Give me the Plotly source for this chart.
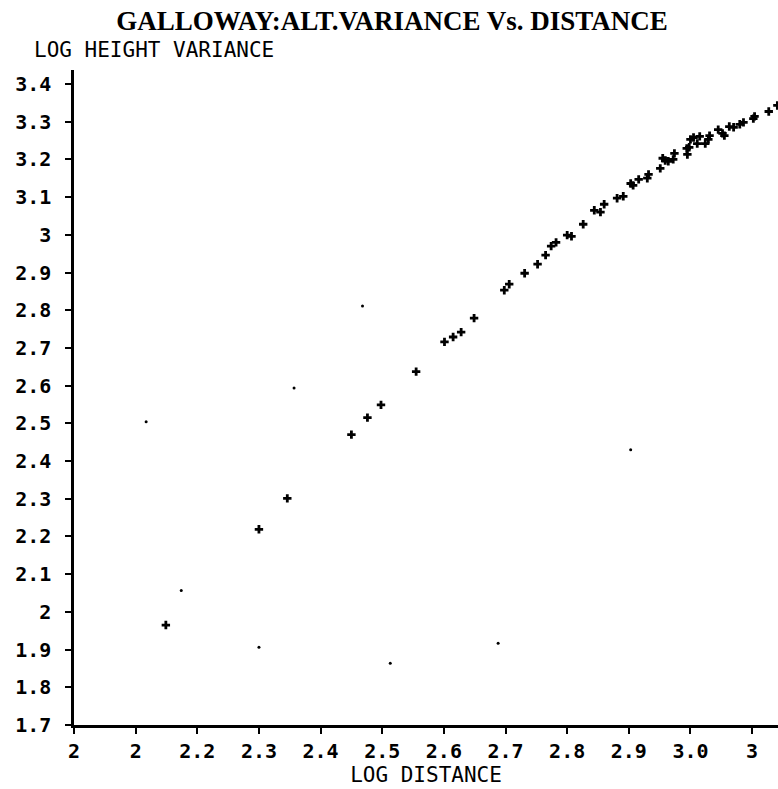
import plotly.graph_objects as go

# Log distance / log height variance pairs (main series, drawn as "+")
log_distance = [
    2.149, 2.300, 2.346, 2.450, 2.476, 2.498, 2.555, 2.601, 2.615, 2.628,
    2.649, 2.698, 2.706, 2.731, 2.752, 2.765, 2.774, 2.782, 2.800, 2.807,
    2.826, 2.844, 2.854, 2.860, 2.881, 2.891, 2.903, 2.907, 2.916, 2.930,
    2.932, 2.951, 2.955, 2.959, 2.964, 2.972, 2.974, 2.994, 2.995, 2.998,
    3.000, 3.005, 3.011, 3.015, 3.024, 3.029, 3.031, 3.045, 3.052, 3.055,
    3.063, 3.070, 3.080, 3.086, 3.102, 3.104, 3.127, 3.141,
]
log_height_variance = [
    1.965, 2.219, 2.301, 2.470, 2.515, 2.549, 2.637, 2.716, 2.729, 2.742,
    2.779, 2.853, 2.869, 2.898, 2.922, 2.946, 2.970, 2.980, 2.999, 2.996,
    3.028, 3.065, 3.060, 3.081, 3.097, 3.102, 3.136, 3.131, 3.147, 3.150,
    3.160, 3.176, 3.203, 3.197, 3.195, 3.200, 3.216, 3.229, 3.213, 3.232,
    3.253, 3.258, 3.242, 3.261, 3.242, 3.253, 3.263, 3.279, 3.269, 3.263,
    3.287, 3.285, 3.293, 3.298, 3.308, 3.314, 3.327, 3.343,
]

# Scattered single readings (drawn as dots)
stray_distance = [2.117, 2.174, 2.300, 2.357, 2.468, 2.513, 2.688, 2.903]
stray_variance = [2.504, 2.057, 1.906, 2.594, 2.811, 1.864, 1.917, 2.430]

# Axis ticks and their printed labels
x_tick_values = [2.0, 2.1, 2.2, 2.3, 2.4, 2.5, 2.6, 2.7, 2.8, 2.9, 3.0, 3.1]
x_tick_labels = ["2", "2", "2.2", "2.3", "2.4", "2.5", "2.6", "2.7", "2.8", "2.9", "3.0", "3"]
y_tick_values = [1.7, 1.8, 1.9, 2.0, 2.1, 2.2, 2.3, 2.4, 2.5, 2.6, 2.7, 2.8, 2.9,
                 3.0, 3.1, 3.2, 3.3, 3.4]
y_tick_labels = ["1.7", "1.8", "1.9", "2", "2.1", "2.2", "2.3", "2.4", "2.5", "2.6",
                 "2.7", "2.8", "2.9", "3", "3.1", "3.2", "3.3", "3.4"]

TITLE = "GALLOWAY:ALT.VARIANCE Vs. DISTANCE"
X_TITLE = "LOG DISTANCE"
Y_TITLE = "LOG HEIGHT VARIANCE"

PLOT_FONT = "DejaVu Sans Mono"

fig = go.Figure()
fig.add_trace(go.Scatter(
    x=log_distance, y=log_height_variance, mode="markers",
    marker=dict(symbol="cross", size=7, color="black", line=dict(width=0)),
    showlegend=False, hoverinfo="x+y",
))
fig.add_trace(go.Scatter(
    x=stray_distance, y=stray_variance, mode="markers",
    marker=dict(symbol="circle", size=3, color="black", line=dict(width=0)),
    showlegend=False, hoverinfo="x+y",
))

fig.update_layout(
    width=778, height=789,
    margin=dict(l=74, r=0, t=70, b=64),
    paper_bgcolor="white", plot_bgcolor="white",
    title=dict(
        text=TITLE, x=392 / 778, xref="container", xanchor="center",
        y=1 - 21 / 789, yref="container", yanchor="middle",
        font=dict(family="Liberation Serif", size=27, color="black", weight="bold"),
    ),
    xaxis=dict(
        range=[2.0, 3.142], tickmode="array", tickvals=x_tick_values,
        ticktext=x_tick_labels, showgrid=False, zeroline=False,
        showline=True, linecolor="black", linewidth=2.5,
        ticks="outside", ticklen=6, tickwidth=2, tickcolor="black",
        tickfont=dict(family=PLOT_FONT, size=20, color="black", weight="bold"),
        title=dict(text=X_TITLE, standoff=0,
                   font=dict(family=PLOT_FONT, size=21, color="black")),
    ),
    yaxis=dict(
        range=[1.7, 3.437], tickmode="array", tickvals=y_tick_values,
        ticktext=y_tick_labels, showgrid=False, zeroline=False,
        showline=True, linecolor="black", linewidth=2.5,
        ticks="outside", ticklen=6, tickwidth=2, tickcolor="black",
        ticklabelstandoff=10,
        tickfont=dict(family=PLOT_FONT, size=20, color="black", weight="bold"),
    ),
    annotations=[dict(
        text=Y_TITLE, xref="paper", yref="paper",
        x=-42 / 704, xanchor="left", y=1 + 20 / 655, yanchor="middle",
        showarrow=False,
        font=dict(family=PLOT_FONT, size=21, color="black"),
    )],
)

fig.write_html("out.html")
